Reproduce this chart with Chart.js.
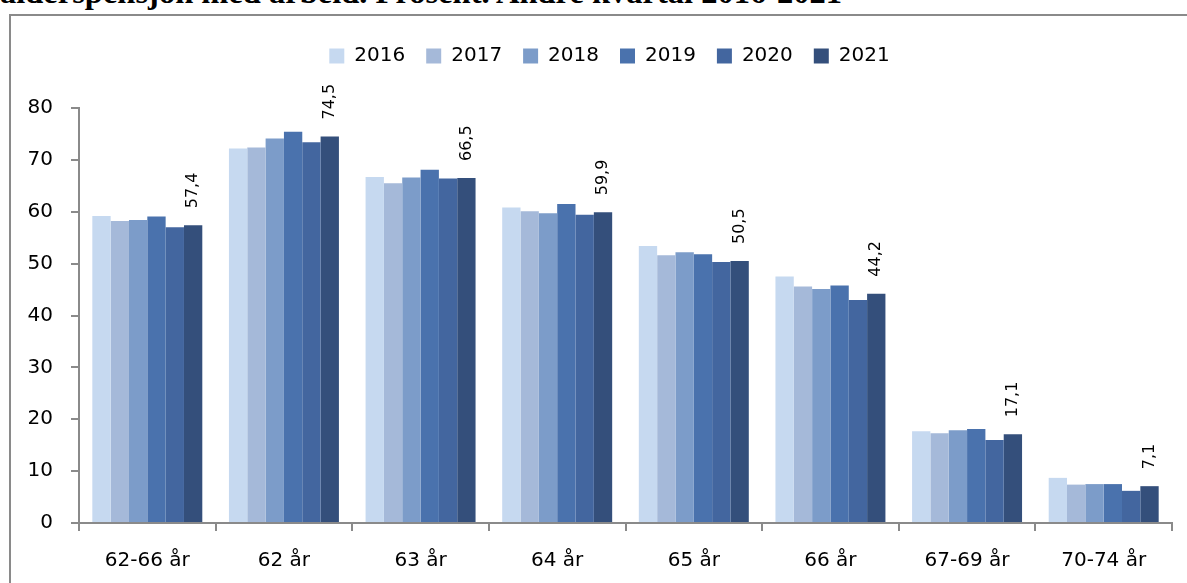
<!DOCTYPE html>
<html>
<head>
<meta charset="utf-8">
<script src="https://cdn.jsdelivr.net/npm/chart.js@4"></script>
<style>
  html, body { margin: 0; padding: 0; background: #fff; overflow: hidden; width: 1187px; height: 583px; }
  #title {
    position: absolute; left: 0; top: -24px; white-space: nowrap;
    font-family: "Liberation Serif", "Times New Roman", serif; font-weight: bold;
    font-size: 32.5px; line-height: 32px; color: #000;
  }
  #box {
    position: absolute; left: 9px; top: 14px;
    border: 2px solid #8a8a8a; background: #fff;
  }
  canvas { display: block; }
</style>
</head>
<body>
<div id="title">alderspensjon med arbeid. Prosent. Andre kvartal 2016-2021</div>
<div id="box"><canvas id="chart" width="1197" height="590"></canvas></div>
<script>
// Categories and series
const categories = ['62-66 år', '62 år', '63 år', '64 år', '65 år', '66 år', '67-69 år', '70-74 år'];
const years = ['2016', '2017', '2018', '2019', '2020', '2021'];

const values2016 = [59.2, 72.2, 66.7, 60.8, 53.4, 47.5, 17.7, 8.7];
const values2017 = [58.2, 72.4, 65.5, 60.1, 51.6, 45.6, 17.3, 7.4];
const values2018 = [58.4, 74.1, 66.6, 59.7, 52.2, 45.1, 17.9, 7.5];
const values2019 = [59.1, 75.4, 68.1, 61.5, 51.8, 45.8, 18.1, 7.5];
const values2020 = [57.0, 73.4, 66.4, 59.4, 50.3, 43.0, 16.0, 6.2];
const values2021 = [57.4, 74.5, 66.5, 59.9, 50.5, 44.2, 17.1, 7.1];

const yTicks = { min: 0, max: 80, step: 10 };

const colors = ['#c6d9f0', '#a5b9d9', '#7c9cc9', '#4a72ad', '#43669f', '#344f7b'];
const seriesValues = [values2016, values2017, values2018, values2019, values2020, values2021];

const FONT = 'DejaVu Sans';
const AXIS_COLOR = '#8a8a8a';

// Format numbers the Norwegian way: 57,4
function formatValue(v) {
  return v.toFixed(1).replace('.', ',');
}

// Make room under the legend so the plot starts where it does in the picture
const legendSpace = {
  id: 'legendSpace',
  beforeInit(chart) {
    const fit = chart.legend.fit;
    chart.legend.fit = function () {
      fit.bind(chart.legend)();
      this.height = 83;
    };
  }
};

// Rotated value labels above the 2021 bars
const lastYearLabels = {
  id: 'lastYearLabels',
  afterDatasetsDraw(chart) {
    const idx = chart.data.datasets.length - 1;
    const meta = chart.getDatasetMeta(idx);
    const ctx = chart.ctx;
    ctx.save();
    ctx.font = '16px "' + FONT + '"';
    ctx.fillStyle = '#000';
    ctx.textAlign = 'left';
    ctx.textBaseline = 'middle';
    meta.data.forEach((bar, i) => {
      ctx.save();
      ctx.translate(bar.x, bar.y - 17);
      ctx.rotate(-Math.PI / 2);
      ctx.fillText(formatValue(chart.data.datasets[idx].data[i]), 0, 0);
      ctx.restore();
    });
    ctx.restore();
  }
};

const ctx = document.getElementById('chart').getContext('2d');

new Chart(ctx, {
  type: 'bar',
  data: {
    labels: categories,
    datasets: years.map((year, i) => ({
      label: year,
      data: seriesValues[i],
      backgroundColor: colors[i],
      borderWidth: 0,
      categoryPercentage: 0.805,
      barPercentage: 1.0,
    })),
  },
  options: {
    responsive: false,
    animation: false,
    devicePixelRatio: 1,
    layout: { padding: { left: 0, right: 0, top: 9, bottom: 0 } },
    plugins: {
      legend: {
        position: 'top',
        labels: {
          boxWidth: 15,
          boxHeight: 15,
          padding: 21,
          color: '#000',
          font: { family: FONT, size: 20 },
        },
      },
      tooltip: { enabled: false },
    },
    scales: {
      x: {
        grid: {
          display: true,
          drawOnChartArea: false,
          drawTicks: true,
          tickLength: 8,
          color: AXIS_COLOR,
          lineWidth: 2,
        },
        border: { display: true, color: AXIS_COLOR, width: 2 },
        ticks: {
          color: '#000',
          padding: 18,
          font: { family: FONT, size: 20 },
          maxRotation: 0,
        },
        afterFit: (scale) => { scale.height = 590 - 507; },
      },
      y: {
        min: yTicks.min,
        max: yTicks.max,
        grid: {
          display: true,
          drawOnChartArea: false,
          drawTicks: true,
          tickLength: 8,
          color: AXIS_COLOR,
          lineWidth: 2,
        },
        border: { display: true, color: AXIS_COLOR, width: 2 },
        ticks: {
          stepSize: yTicks.step,
          color: '#000',
          padding: 18,
          font: { family: FONT, size: 20 },
        },
        afterFit: (scale) => { scale.width = 68; },
      },
      // empty right-hand strip so the plot ends where the picture's does
      yRight: {
        position: 'right',
        display: true,
        grid: { display: false },
        border: { display: false },
        ticks: { display: false },
        afterFit: (scale) => { scale.width = 36; },
      },
    },
  },
  plugins: [legendSpace, lastYearLabels],
});
</script>
</body>
</html>
